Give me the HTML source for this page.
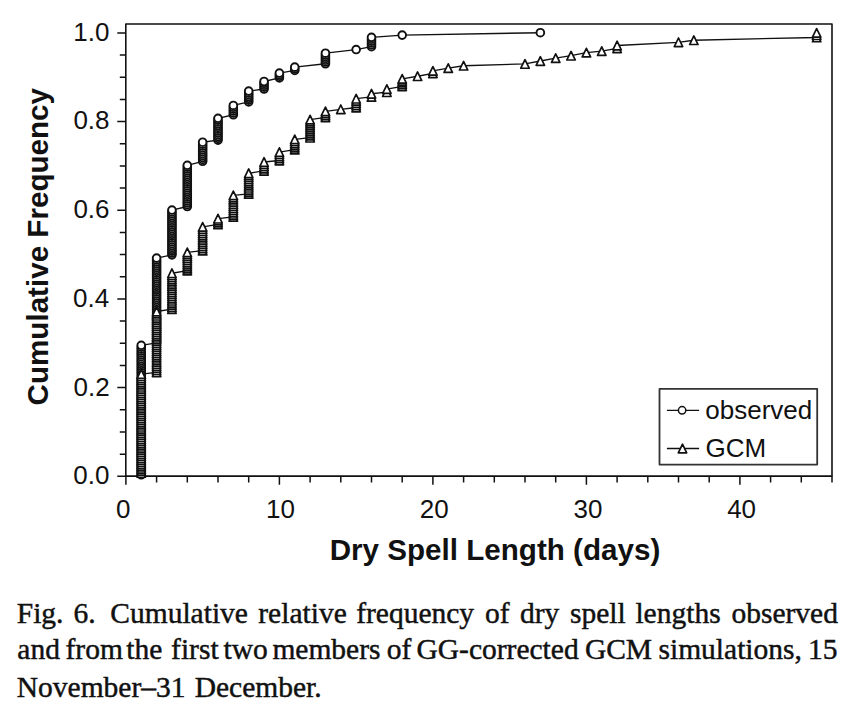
<!DOCTYPE html>
<html><head><meta charset="utf-8"><title>Fig. 6</title>
<style>
html,body{margin:0;padding:0;background:#fff;width:854px;height:708px;overflow:hidden;position:relative}
svg{display:block}
</style></head><body>
<svg width="854" height="708" viewBox="0 0 854 708" style="position:absolute;left:0;top:0">
<path d="M125.8 476.1V24H832V476.1Z" fill="none" stroke="#111" stroke-width="1.6" stroke-linejoin="round"/>
<path d="M117.3 476.3H125.8M119.8 454.13H125.8M119.8 431.96H125.8M119.8 409.79H125.8M117.3 387.62H125.8M119.8 365.45H125.8M119.8 343.28H125.8M119.8 321.11H125.8M117.3 298.94H125.8M119.8 276.77H125.8M119.8 254.6H125.8M119.8 232.43H125.8M117.3 210.26H125.8M119.8 188.09H125.8M119.8 165.92H125.8M119.8 143.75H125.8M117.3 121.58H125.8M119.8 99.41H125.8M119.8 77.24H125.8M119.8 55.07H125.8M117.3 32.9H125.8M125.9 476.1V484.8M156.6 476.1V482.6M187.3 476.1V482.6M218 476.1V482.6M248.7 476.1V482.6M279.4 476.1V484.8M310.1 476.1V482.6M340.8 476.1V482.6M371.5 476.1V482.6M402.2 476.1V482.6M432.9 476.1V484.8M463.6 476.1V482.6M494.3 476.1V482.6M525 476.1V482.6M555.7 476.1V482.6M586.4 476.1V484.8M617.1 476.1V482.6M647.8 476.1V482.6M678.5 476.1V482.6M709.2 476.1V482.6M739.9 476.1V484.8M770.6 476.1V482.6M801.3 476.1V482.6M832 476.1V482.6" fill="none" stroke="#111" stroke-width="1.5"/>
<g fill="#fff" stroke="#111" stroke-width="1.9">
<path d="M141.25 474.78L141.25 472.88L141.25 470.97L141.25 469.07L141.25 467.17L141.25 465.26L141.25 463.36L141.25 461.45L141.25 459.55L141.25 457.65L141.25 455.74L141.25 453.84L141.25 451.93L141.25 450.03L141.25 448.13L141.25 446.22L141.25 444.32L141.25 442.41L141.25 440.51L141.25 438.61L141.25 436.7L141.25 434.8L141.25 432.89L141.25 430.99L141.25 429.09L141.25 427.18L141.25 425.28L141.25 423.37L141.25 421.47L141.25 419.57L141.25 417.66L141.25 415.76L141.25 413.85L141.25 411.95L141.25 410.05L141.25 408.14L141.25 406.24L141.25 404.33L141.25 402.43L141.25 400.53L141.25 398.62L141.25 396.72L141.25 394.81L141.25 392.91L141.25 391.01L141.25 389.1L141.25 387.2L141.25 385.29L141.25 383.39L141.25 381.49L141.25 379.58L141.25 377.68L141.25 375.77L141.25 373.87L141.25 371.97L141.25 370.06L141.25 368.16L141.25 366.25L141.25 364.35L141.25 362.45L141.25 360.54L141.25 358.64L141.25 356.73L141.25 354.83L141.25 352.93L141.25 351.02L141.25 349.12L141.25 347.21L141.25 345.31L156.6 342.87L156.6 340.99L156.6 339.1L156.6 337.22L156.6 335.34L156.6 333.45L156.6 331.57L156.6 329.68L156.6 327.8L156.6 325.92L156.6 324.03L156.6 322.15L156.6 320.26L156.6 318.38L156.6 316.5L156.6 314.61L156.6 312.73L156.6 310.84L156.6 308.96L156.6 307.08L156.6 305.19L156.6 303.31L156.6 301.42L156.6 299.54L156.6 297.66L156.6 295.77L156.6 293.89L156.6 292L156.6 290.12L156.6 288.24L156.6 286.35L156.6 284.47L156.6 282.58L156.6 280.7L156.6 278.82L156.6 276.93L156.6 275.05L156.6 273.17L156.6 271.28L156.6 269.4L156.6 267.51L156.6 265.63L156.6 263.75L156.6 261.86L156.6 259.98L156.6 258.09L171.95 254.86L171.95 252.99L171.95 251.12L171.95 249.26L171.95 247.39L171.95 245.53L171.95 243.66L171.95 241.79L171.95 239.93L171.95 238.06L171.95 236.2L171.95 234.33L171.95 232.46L171.95 230.6L171.95 228.73L171.95 226.87L171.95 225L171.95 223.14L171.95 221.27L171.95 219.4L171.95 217.54L171.95 215.67L171.95 213.81L171.95 211.94L171.95 210.07L187.3 206.53L187.3 204.65L187.3 202.78L187.3 200.9L187.3 199.03L187.3 197.15L187.3 195.28L187.3 193.41L187.3 191.53L187.3 189.66L187.3 187.78L187.3 185.91L187.3 184.03L187.3 182.16L187.3 180.28L187.3 178.41L187.3 176.54L187.3 174.66L187.3 172.79L187.3 170.91L187.3 169.04L187.3 167.16L187.3 165.29L202.65 161.3L202.65 159.39L202.65 157.49L202.65 155.58L202.65 153.67L202.65 151.77L202.65 149.86L202.65 147.95L202.65 146.05L202.65 144.14L202.65 142.23L218 140.15L218 138.33L218 136.51L218 134.68L218 132.86L218 131.04L218 129.22L218 127.4L218 125.58L218 123.75L218 121.93L218 120.11L218 118.29L233.35 114.74L233.35 112.88L233.35 111.02L233.35 109.16L233.35 107.29L233.35 105.43L248.7 101.88L248.7 100.09L248.7 98.29L248.7 96.5L248.7 94.7L248.7 92.9L248.7 91.11L264.05 89.03L264.05 87.14L264.05 85.26L264.05 83.37L264.05 81.49L279.4 77.94L279.4 76.31L279.4 74.69L279.4 73.06L294.75 70.4L294.75 68.78L294.75 67.17L325.45 63.75L325.45 61.99L325.45 60.23L325.45 58.47L325.45 56.72L325.45 54.96L325.45 53.2L356.15 49.56L371.5 46.68L371.5 44.82L371.5 42.96L371.5 41.09L371.5 39.23L371.5 37.37L402.2 35.11L540.35 32.71" fill="none" stroke="#111" stroke-width="1.35" stroke-linejoin="round"/>
<circle cx="141.25" cy="474.78" r="3.85"/>
<circle cx="141.25" cy="472.88" r="3.85"/>
<circle cx="141.25" cy="470.97" r="3.85"/>
<circle cx="141.25" cy="469.07" r="3.85"/>
<circle cx="141.25" cy="467.17" r="3.85"/>
<circle cx="141.25" cy="465.26" r="3.85"/>
<circle cx="141.25" cy="463.36" r="3.85"/>
<circle cx="141.25" cy="461.45" r="3.85"/>
<circle cx="141.25" cy="459.55" r="3.85"/>
<circle cx="141.25" cy="457.65" r="3.85"/>
<circle cx="141.25" cy="455.74" r="3.85"/>
<circle cx="141.25" cy="453.84" r="3.85"/>
<circle cx="141.25" cy="451.93" r="3.85"/>
<circle cx="141.25" cy="450.03" r="3.85"/>
<circle cx="141.25" cy="448.13" r="3.85"/>
<circle cx="141.25" cy="446.22" r="3.85"/>
<circle cx="141.25" cy="444.32" r="3.85"/>
<circle cx="141.25" cy="442.41" r="3.85"/>
<circle cx="141.25" cy="440.51" r="3.85"/>
<circle cx="141.25" cy="438.61" r="3.85"/>
<circle cx="141.25" cy="436.7" r="3.85"/>
<circle cx="141.25" cy="434.8" r="3.85"/>
<circle cx="141.25" cy="432.89" r="3.85"/>
<circle cx="141.25" cy="430.99" r="3.85"/>
<circle cx="141.25" cy="429.09" r="3.85"/>
<circle cx="141.25" cy="427.18" r="3.85"/>
<circle cx="141.25" cy="425.28" r="3.85"/>
<circle cx="141.25" cy="423.37" r="3.85"/>
<circle cx="141.25" cy="421.47" r="3.85"/>
<circle cx="141.25" cy="419.57" r="3.85"/>
<circle cx="141.25" cy="417.66" r="3.85"/>
<circle cx="141.25" cy="415.76" r="3.85"/>
<circle cx="141.25" cy="413.85" r="3.85"/>
<circle cx="141.25" cy="411.95" r="3.85"/>
<circle cx="141.25" cy="410.05" r="3.85"/>
<circle cx="141.25" cy="408.14" r="3.85"/>
<circle cx="141.25" cy="406.24" r="3.85"/>
<circle cx="141.25" cy="404.33" r="3.85"/>
<circle cx="141.25" cy="402.43" r="3.85"/>
<circle cx="141.25" cy="400.53" r="3.85"/>
<circle cx="141.25" cy="398.62" r="3.85"/>
<circle cx="141.25" cy="396.72" r="3.85"/>
<circle cx="141.25" cy="394.81" r="3.85"/>
<circle cx="141.25" cy="392.91" r="3.85"/>
<circle cx="141.25" cy="391.01" r="3.85"/>
<circle cx="141.25" cy="389.1" r="3.85"/>
<circle cx="141.25" cy="387.2" r="3.85"/>
<circle cx="141.25" cy="385.29" r="3.85"/>
<circle cx="141.25" cy="383.39" r="3.85"/>
<circle cx="141.25" cy="381.49" r="3.85"/>
<circle cx="141.25" cy="379.58" r="3.85"/>
<circle cx="141.25" cy="377.68" r="3.85"/>
<circle cx="141.25" cy="375.77" r="3.85"/>
<circle cx="141.25" cy="373.87" r="3.85"/>
<circle cx="141.25" cy="371.97" r="3.85"/>
<circle cx="141.25" cy="370.06" r="3.85"/>
<circle cx="141.25" cy="368.16" r="3.85"/>
<circle cx="141.25" cy="366.25" r="3.85"/>
<circle cx="141.25" cy="364.35" r="3.85"/>
<circle cx="141.25" cy="362.45" r="3.85"/>
<circle cx="141.25" cy="360.54" r="3.85"/>
<circle cx="141.25" cy="358.64" r="3.85"/>
<circle cx="141.25" cy="356.73" r="3.85"/>
<circle cx="141.25" cy="354.83" r="3.85"/>
<circle cx="141.25" cy="352.93" r="3.85"/>
<circle cx="141.25" cy="351.02" r="3.85"/>
<circle cx="141.25" cy="349.12" r="3.85"/>
<circle cx="141.25" cy="347.21" r="3.85"/>
<circle cx="141.25" cy="345.31" r="3.85"/>
<circle cx="156.6" cy="342.87" r="3.85"/>
<circle cx="156.6" cy="340.99" r="3.85"/>
<circle cx="156.6" cy="339.1" r="3.85"/>
<circle cx="156.6" cy="337.22" r="3.85"/>
<circle cx="156.6" cy="335.34" r="3.85"/>
<circle cx="156.6" cy="333.45" r="3.85"/>
<circle cx="156.6" cy="331.57" r="3.85"/>
<circle cx="156.6" cy="329.68" r="3.85"/>
<circle cx="156.6" cy="327.8" r="3.85"/>
<circle cx="156.6" cy="325.92" r="3.85"/>
<circle cx="156.6" cy="324.03" r="3.85"/>
<circle cx="156.6" cy="322.15" r="3.85"/>
<circle cx="156.6" cy="320.26" r="3.85"/>
<circle cx="156.6" cy="318.38" r="3.85"/>
<circle cx="156.6" cy="316.5" r="3.85"/>
<circle cx="156.6" cy="314.61" r="3.85"/>
<circle cx="156.6" cy="312.73" r="3.85"/>
<circle cx="156.6" cy="310.84" r="3.85"/>
<circle cx="156.6" cy="308.96" r="3.85"/>
<circle cx="156.6" cy="307.08" r="3.85"/>
<circle cx="156.6" cy="305.19" r="3.85"/>
<circle cx="156.6" cy="303.31" r="3.85"/>
<circle cx="156.6" cy="301.42" r="3.85"/>
<circle cx="156.6" cy="299.54" r="3.85"/>
<circle cx="156.6" cy="297.66" r="3.85"/>
<circle cx="156.6" cy="295.77" r="3.85"/>
<circle cx="156.6" cy="293.89" r="3.85"/>
<circle cx="156.6" cy="292" r="3.85"/>
<circle cx="156.6" cy="290.12" r="3.85"/>
<circle cx="156.6" cy="288.24" r="3.85"/>
<circle cx="156.6" cy="286.35" r="3.85"/>
<circle cx="156.6" cy="284.47" r="3.85"/>
<circle cx="156.6" cy="282.58" r="3.85"/>
<circle cx="156.6" cy="280.7" r="3.85"/>
<circle cx="156.6" cy="278.82" r="3.85"/>
<circle cx="156.6" cy="276.93" r="3.85"/>
<circle cx="156.6" cy="275.05" r="3.85"/>
<circle cx="156.6" cy="273.17" r="3.85"/>
<circle cx="156.6" cy="271.28" r="3.85"/>
<circle cx="156.6" cy="269.4" r="3.85"/>
<circle cx="156.6" cy="267.51" r="3.85"/>
<circle cx="156.6" cy="265.63" r="3.85"/>
<circle cx="156.6" cy="263.75" r="3.85"/>
<circle cx="156.6" cy="261.86" r="3.85"/>
<circle cx="156.6" cy="259.98" r="3.85"/>
<circle cx="156.6" cy="258.09" r="3.85"/>
<circle cx="171.95" cy="254.86" r="3.85"/>
<circle cx="171.95" cy="252.99" r="3.85"/>
<circle cx="171.95" cy="251.12" r="3.85"/>
<circle cx="171.95" cy="249.26" r="3.85"/>
<circle cx="171.95" cy="247.39" r="3.85"/>
<circle cx="171.95" cy="245.53" r="3.85"/>
<circle cx="171.95" cy="243.66" r="3.85"/>
<circle cx="171.95" cy="241.79" r="3.85"/>
<circle cx="171.95" cy="239.93" r="3.85"/>
<circle cx="171.95" cy="238.06" r="3.85"/>
<circle cx="171.95" cy="236.2" r="3.85"/>
<circle cx="171.95" cy="234.33" r="3.85"/>
<circle cx="171.95" cy="232.46" r="3.85"/>
<circle cx="171.95" cy="230.6" r="3.85"/>
<circle cx="171.95" cy="228.73" r="3.85"/>
<circle cx="171.95" cy="226.87" r="3.85"/>
<circle cx="171.95" cy="225" r="3.85"/>
<circle cx="171.95" cy="223.14" r="3.85"/>
<circle cx="171.95" cy="221.27" r="3.85"/>
<circle cx="171.95" cy="219.4" r="3.85"/>
<circle cx="171.95" cy="217.54" r="3.85"/>
<circle cx="171.95" cy="215.67" r="3.85"/>
<circle cx="171.95" cy="213.81" r="3.85"/>
<circle cx="171.95" cy="211.94" r="3.85"/>
<circle cx="171.95" cy="210.07" r="3.85"/>
<circle cx="187.3" cy="206.53" r="3.85"/>
<circle cx="187.3" cy="204.65" r="3.85"/>
<circle cx="187.3" cy="202.78" r="3.85"/>
<circle cx="187.3" cy="200.9" r="3.85"/>
<circle cx="187.3" cy="199.03" r="3.85"/>
<circle cx="187.3" cy="197.15" r="3.85"/>
<circle cx="187.3" cy="195.28" r="3.85"/>
<circle cx="187.3" cy="193.41" r="3.85"/>
<circle cx="187.3" cy="191.53" r="3.85"/>
<circle cx="187.3" cy="189.66" r="3.85"/>
<circle cx="187.3" cy="187.78" r="3.85"/>
<circle cx="187.3" cy="185.91" r="3.85"/>
<circle cx="187.3" cy="184.03" r="3.85"/>
<circle cx="187.3" cy="182.16" r="3.85"/>
<circle cx="187.3" cy="180.28" r="3.85"/>
<circle cx="187.3" cy="178.41" r="3.85"/>
<circle cx="187.3" cy="176.54" r="3.85"/>
<circle cx="187.3" cy="174.66" r="3.85"/>
<circle cx="187.3" cy="172.79" r="3.85"/>
<circle cx="187.3" cy="170.91" r="3.85"/>
<circle cx="187.3" cy="169.04" r="3.85"/>
<circle cx="187.3" cy="167.16" r="3.85"/>
<circle cx="187.3" cy="165.29" r="3.85"/>
<circle cx="202.65" cy="161.3" r="3.85"/>
<circle cx="202.65" cy="159.39" r="3.85"/>
<circle cx="202.65" cy="157.49" r="3.85"/>
<circle cx="202.65" cy="155.58" r="3.85"/>
<circle cx="202.65" cy="153.67" r="3.85"/>
<circle cx="202.65" cy="151.77" r="3.85"/>
<circle cx="202.65" cy="149.86" r="3.85"/>
<circle cx="202.65" cy="147.95" r="3.85"/>
<circle cx="202.65" cy="146.05" r="3.85"/>
<circle cx="202.65" cy="144.14" r="3.85"/>
<circle cx="202.65" cy="142.23" r="3.85"/>
<circle cx="218" cy="140.15" r="3.85"/>
<circle cx="218" cy="138.33" r="3.85"/>
<circle cx="218" cy="136.51" r="3.85"/>
<circle cx="218" cy="134.68" r="3.85"/>
<circle cx="218" cy="132.86" r="3.85"/>
<circle cx="218" cy="131.04" r="3.85"/>
<circle cx="218" cy="129.22" r="3.85"/>
<circle cx="218" cy="127.4" r="3.85"/>
<circle cx="218" cy="125.58" r="3.85"/>
<circle cx="218" cy="123.75" r="3.85"/>
<circle cx="218" cy="121.93" r="3.85"/>
<circle cx="218" cy="120.11" r="3.85"/>
<circle cx="218" cy="118.29" r="3.85"/>
<circle cx="233.35" cy="114.74" r="3.85"/>
<circle cx="233.35" cy="112.88" r="3.85"/>
<circle cx="233.35" cy="111.02" r="3.85"/>
<circle cx="233.35" cy="109.16" r="3.85"/>
<circle cx="233.35" cy="107.29" r="3.85"/>
<circle cx="233.35" cy="105.43" r="3.85"/>
<circle cx="248.7" cy="101.88" r="3.85"/>
<circle cx="248.7" cy="100.09" r="3.85"/>
<circle cx="248.7" cy="98.29" r="3.85"/>
<circle cx="248.7" cy="96.5" r="3.85"/>
<circle cx="248.7" cy="94.7" r="3.85"/>
<circle cx="248.7" cy="92.9" r="3.85"/>
<circle cx="248.7" cy="91.11" r="3.85"/>
<circle cx="264.05" cy="89.03" r="3.85"/>
<circle cx="264.05" cy="87.14" r="3.85"/>
<circle cx="264.05" cy="85.26" r="3.85"/>
<circle cx="264.05" cy="83.37" r="3.85"/>
<circle cx="264.05" cy="81.49" r="3.85"/>
<circle cx="279.4" cy="77.94" r="3.85"/>
<circle cx="279.4" cy="76.31" r="3.85"/>
<circle cx="279.4" cy="74.69" r="3.85"/>
<circle cx="279.4" cy="73.06" r="3.85"/>
<circle cx="294.75" cy="70.4" r="3.85"/>
<circle cx="294.75" cy="68.78" r="3.85"/>
<circle cx="294.75" cy="67.17" r="3.85"/>
<circle cx="325.45" cy="63.75" r="3.85"/>
<circle cx="325.45" cy="61.99" r="3.85"/>
<circle cx="325.45" cy="60.23" r="3.85"/>
<circle cx="325.45" cy="58.47" r="3.85"/>
<circle cx="325.45" cy="56.72" r="3.85"/>
<circle cx="325.45" cy="54.96" r="3.85"/>
<circle cx="325.45" cy="53.2" r="3.85"/>
<circle cx="356.15" cy="49.56" r="3.85"/>
<circle cx="371.5" cy="46.68" r="3.85"/>
<circle cx="371.5" cy="44.82" r="3.85"/>
<circle cx="371.5" cy="42.96" r="3.85"/>
<circle cx="371.5" cy="41.09" r="3.85"/>
<circle cx="371.5" cy="39.23" r="3.85"/>
<circle cx="371.5" cy="37.37" r="3.85"/>
<circle cx="402.2" cy="35.11" r="3.85"/>
<circle cx="540.35" cy="32.71" r="3.85"/>
</g>
<g fill="#fff" stroke="#111" stroke-width="1.7" stroke-linejoin="round">
<path d="M141.25 472.97L141.25 470.87L141.25 468.77L141.25 466.66L141.25 464.56L141.25 462.46L141.25 460.35L141.25 458.25L141.25 456.14L141.25 454.04L141.25 451.94L141.25 449.83L141.25 447.73L141.25 445.63L141.25 443.52L141.25 441.42L141.25 439.31L141.25 437.21L141.25 435.11L141.25 433L141.25 430.9L141.25 428.79L141.25 426.69L141.25 424.59L141.25 422.48L141.25 420.38L141.25 418.28L141.25 416.17L141.25 414.07L141.25 411.96L141.25 409.86L141.25 407.76L141.25 405.65L141.25 403.55L141.25 401.45L141.25 399.34L141.25 397.24L141.25 395.13L141.25 393.03L141.25 390.93L141.25 388.82L141.25 386.72L141.25 384.62L141.25 382.51L141.25 380.41L141.25 378.3L141.25 376.2L141.25 374.1L156.6 372.32L156.6 370.22L156.6 368.13L156.6 366.03L156.6 363.93L156.6 361.83L156.6 359.74L156.6 357.64L156.6 355.54L156.6 353.44L156.6 351.35L156.6 349.25L156.6 347.15L156.6 345.05L156.6 342.95L156.6 340.86L156.6 338.76L156.6 336.66L156.6 334.56L156.6 332.47L156.6 330.37L156.6 328.27L156.6 326.17L156.6 324.07L156.6 321.98L156.6 319.88L156.6 317.78L156.6 315.68L156.6 313.59L156.6 311.49L171.95 309.14L171.95 307.03L171.95 304.91L171.95 302.8L171.95 300.69L171.95 298.57L171.95 296.46L171.95 294.35L171.95 292.24L171.95 290.12L171.95 288.01L171.95 285.9L171.95 283.79L171.95 281.67L171.95 279.56L171.95 277.45L171.95 275.34L171.95 273.22L187.3 270.56L187.3 268.54L187.3 266.52L187.3 264.5L187.3 262.48L187.3 260.46L187.3 258.44L187.3 256.42L187.3 254.4L187.3 252.38L202.65 250.61L202.65 248.45L202.65 246.3L202.65 244.14L202.65 241.98L202.65 239.83L202.65 237.67L202.65 235.51L202.65 233.36L202.65 231.2L202.65 229.04L202.65 226.89L218 224.45L218 222.53L218 220.61L218 218.68L233.35 216.91L233.35 214.75L233.35 212.59L233.35 210.43L233.35 208.27L233.35 206.11L233.35 203.95L233.35 201.8L233.35 199.64L233.35 197.48L233.35 195.32L248.7 193.85L248.7 191.8L248.7 189.74L248.7 187.68L248.7 185.62L248.7 183.57L248.7 181.51L248.7 179.45L248.7 177.4L248.7 175.34L248.7 173.28L264.05 170.8L264.05 168.6L264.05 166.41L264.05 164.21L264.05 162.02L279.4 160.51L279.4 158.4L279.4 156.3L279.4 154.19L279.4 152.09L294.75 149.6L294.75 147.56L294.75 145.52L294.75 143.48L294.75 141.44L294.75 139.4L310.1 137.68L310.1 135.67L310.1 133.66L310.1 131.65L310.1 129.64L310.1 127.63L310.1 125.61L310.1 123.6L310.1 121.59L310.1 119.58L325.45 117.32L325.45 115.34L325.45 113.36L325.45 111.38L340.8 109.3L356.15 107.52L356.15 105.32L356.15 103.11L356.15 100.91L356.15 98.7L371.5 96.88L371.5 93.78L386.85 92.18L386.85 89.08L402.2 86.29L402.2 84.43L402.2 82.58L402.2 80.73L402.2 78.88L417.55 76.22L432.9 73.29L432.9 70.9L448.25 68.11L463.6 65.71L525 63.94L540.35 61.01L555.7 58.17L571.05 55.69L586.4 52.59L601.75 51.08L617.1 48.29L617.1 45.49L678.5 42.3L693.85 40.22L816.65 37.47L816.65 35.18L816.65 32.9" fill="none" stroke="#111" stroke-width="1.35" stroke-linejoin="round"/>
<path d="M141.25 468.67L145.45 477.27H137.05Z"/>
<path d="M141.25 466.57L145.45 475.17H137.05Z"/>
<path d="M141.25 464.47L145.45 473.07H137.05Z"/>
<path d="M141.25 462.36L145.45 470.96H137.05Z"/>
<path d="M141.25 460.26L145.45 468.86H137.05Z"/>
<path d="M141.25 458.16L145.45 466.76H137.05Z"/>
<path d="M141.25 456.05L145.45 464.65H137.05Z"/>
<path d="M141.25 453.95L145.45 462.55H137.05Z"/>
<path d="M141.25 451.84L145.45 460.44H137.05Z"/>
<path d="M141.25 449.74L145.45 458.34H137.05Z"/>
<path d="M141.25 447.64L145.45 456.24H137.05Z"/>
<path d="M141.25 445.53L145.45 454.13H137.05Z"/>
<path d="M141.25 443.43L145.45 452.03H137.05Z"/>
<path d="M141.25 441.33L145.45 449.93H137.05Z"/>
<path d="M141.25 439.22L145.45 447.82H137.05Z"/>
<path d="M141.25 437.12L145.45 445.72H137.05Z"/>
<path d="M141.25 435.01L145.45 443.61H137.05Z"/>
<path d="M141.25 432.91L145.45 441.51H137.05Z"/>
<path d="M141.25 430.81L145.45 439.41H137.05Z"/>
<path d="M141.25 428.7L145.45 437.3H137.05Z"/>
<path d="M141.25 426.6L145.45 435.2H137.05Z"/>
<path d="M141.25 424.49L145.45 433.09H137.05Z"/>
<path d="M141.25 422.39L145.45 430.99H137.05Z"/>
<path d="M141.25 420.29L145.45 428.89H137.05Z"/>
<path d="M141.25 418.18L145.45 426.78H137.05Z"/>
<path d="M141.25 416.08L145.45 424.68H137.05Z"/>
<path d="M141.25 413.98L145.45 422.58H137.05Z"/>
<path d="M141.25 411.87L145.45 420.47H137.05Z"/>
<path d="M141.25 409.77L145.45 418.37H137.05Z"/>
<path d="M141.25 407.66L145.45 416.26H137.05Z"/>
<path d="M141.25 405.56L145.45 414.16H137.05Z"/>
<path d="M141.25 403.46L145.45 412.06H137.05Z"/>
<path d="M141.25 401.35L145.45 409.95H137.05Z"/>
<path d="M141.25 399.25L145.45 407.85H137.05Z"/>
<path d="M141.25 397.15L145.45 405.75H137.05Z"/>
<path d="M141.25 395.04L145.45 403.64H137.05Z"/>
<path d="M141.25 392.94L145.45 401.54H137.05Z"/>
<path d="M141.25 390.83L145.45 399.43H137.05Z"/>
<path d="M141.25 388.73L145.45 397.33H137.05Z"/>
<path d="M141.25 386.63L145.45 395.23H137.05Z"/>
<path d="M141.25 384.52L145.45 393.12H137.05Z"/>
<path d="M141.25 382.42L145.45 391.02H137.05Z"/>
<path d="M141.25 380.32L145.45 388.92H137.05Z"/>
<path d="M141.25 378.21L145.45 386.81H137.05Z"/>
<path d="M141.25 376.11L145.45 384.71H137.05Z"/>
<path d="M141.25 374L145.45 382.6H137.05Z"/>
<path d="M141.25 371.9L145.45 380.5H137.05Z"/>
<path d="M141.25 369.8L145.45 378.4H137.05Z"/>
<path d="M156.6 368.02L160.8 376.62H152.4Z"/>
<path d="M156.6 365.92L160.8 374.52H152.4Z"/>
<path d="M156.6 363.83L160.8 372.43H152.4Z"/>
<path d="M156.6 361.73L160.8 370.33H152.4Z"/>
<path d="M156.6 359.63L160.8 368.23H152.4Z"/>
<path d="M156.6 357.53L160.8 366.13H152.4Z"/>
<path d="M156.6 355.44L160.8 364.04H152.4Z"/>
<path d="M156.6 353.34L160.8 361.94H152.4Z"/>
<path d="M156.6 351.24L160.8 359.84H152.4Z"/>
<path d="M156.6 349.14L160.8 357.74H152.4Z"/>
<path d="M156.6 347.05L160.8 355.65H152.4Z"/>
<path d="M156.6 344.95L160.8 353.55H152.4Z"/>
<path d="M156.6 342.85L160.8 351.45H152.4Z"/>
<path d="M156.6 340.75L160.8 349.35H152.4Z"/>
<path d="M156.6 338.65L160.8 347.25H152.4Z"/>
<path d="M156.6 336.56L160.8 345.16H152.4Z"/>
<path d="M156.6 334.46L160.8 343.06H152.4Z"/>
<path d="M156.6 332.36L160.8 340.96H152.4Z"/>
<path d="M156.6 330.26L160.8 338.86H152.4Z"/>
<path d="M156.6 328.17L160.8 336.77H152.4Z"/>
<path d="M156.6 326.07L160.8 334.67H152.4Z"/>
<path d="M156.6 323.97L160.8 332.57H152.4Z"/>
<path d="M156.6 321.87L160.8 330.47H152.4Z"/>
<path d="M156.6 319.77L160.8 328.37H152.4Z"/>
<path d="M156.6 317.68L160.8 326.28H152.4Z"/>
<path d="M156.6 315.58L160.8 324.18H152.4Z"/>
<path d="M156.6 313.48L160.8 322.08H152.4Z"/>
<path d="M156.6 311.38L160.8 319.98H152.4Z"/>
<path d="M156.6 309.29L160.8 317.89H152.4Z"/>
<path d="M156.6 307.19L160.8 315.79H152.4Z"/>
<path d="M171.95 304.84L176.15 313.44H167.75Z"/>
<path d="M171.95 302.73L176.15 311.33H167.75Z"/>
<path d="M171.95 300.61L176.15 309.21H167.75Z"/>
<path d="M171.95 298.5L176.15 307.1H167.75Z"/>
<path d="M171.95 296.39L176.15 304.99H167.75Z"/>
<path d="M171.95 294.27L176.15 302.87H167.75Z"/>
<path d="M171.95 292.16L176.15 300.76H167.75Z"/>
<path d="M171.95 290.05L176.15 298.65H167.75Z"/>
<path d="M171.95 287.94L176.15 296.54H167.75Z"/>
<path d="M171.95 285.82L176.15 294.42H167.75Z"/>
<path d="M171.95 283.71L176.15 292.31H167.75Z"/>
<path d="M171.95 281.6L176.15 290.2H167.75Z"/>
<path d="M171.95 279.49L176.15 288.09H167.75Z"/>
<path d="M171.95 277.37L176.15 285.97H167.75Z"/>
<path d="M171.95 275.26L176.15 283.86H167.75Z"/>
<path d="M171.95 273.15L176.15 281.75H167.75Z"/>
<path d="M171.95 271.04L176.15 279.64H167.75Z"/>
<path d="M171.95 268.92L176.15 277.52H167.75Z"/>
<path d="M187.3 266.26L191.5 274.86H183.1Z"/>
<path d="M187.3 264.24L191.5 272.84H183.1Z"/>
<path d="M187.3 262.22L191.5 270.82H183.1Z"/>
<path d="M187.3 260.2L191.5 268.8H183.1Z"/>
<path d="M187.3 258.18L191.5 266.78H183.1Z"/>
<path d="M187.3 256.16L191.5 264.76H183.1Z"/>
<path d="M187.3 254.14L191.5 262.74H183.1Z"/>
<path d="M187.3 252.12L191.5 260.72H183.1Z"/>
<path d="M187.3 250.1L191.5 258.7H183.1Z"/>
<path d="M187.3 248.08L191.5 256.68H183.1Z"/>
<path d="M202.65 246.31L206.85 254.91H198.45Z"/>
<path d="M202.65 244.15L206.85 252.75H198.45Z"/>
<path d="M202.65 242L206.85 250.6H198.45Z"/>
<path d="M202.65 239.84L206.85 248.44H198.45Z"/>
<path d="M202.65 237.68L206.85 246.28H198.45Z"/>
<path d="M202.65 235.53L206.85 244.13H198.45Z"/>
<path d="M202.65 233.37L206.85 241.97H198.45Z"/>
<path d="M202.65 231.21L206.85 239.81H198.45Z"/>
<path d="M202.65 229.06L206.85 237.66H198.45Z"/>
<path d="M202.65 226.9L206.85 235.5H198.45Z"/>
<path d="M202.65 224.74L206.85 233.34H198.45Z"/>
<path d="M202.65 222.59L206.85 231.19H198.45Z"/>
<path d="M218 220.15L222.2 228.75H213.8Z"/>
<path d="M218 218.23L222.2 226.83H213.8Z"/>
<path d="M218 216.31L222.2 224.91H213.8Z"/>
<path d="M218 214.38L222.2 222.98H213.8Z"/>
<path d="M233.35 212.61L237.55 221.21H229.15Z"/>
<path d="M233.35 210.45L237.55 219.05H229.15Z"/>
<path d="M233.35 208.29L237.55 216.89H229.15Z"/>
<path d="M233.35 206.13L237.55 214.73H229.15Z"/>
<path d="M233.35 203.97L237.55 212.57H229.15Z"/>
<path d="M233.35 201.81L237.55 210.41H229.15Z"/>
<path d="M233.35 199.65L237.55 208.25H229.15Z"/>
<path d="M233.35 197.5L237.55 206.1H229.15Z"/>
<path d="M233.35 195.34L237.55 203.94H229.15Z"/>
<path d="M233.35 193.18L237.55 201.78H229.15Z"/>
<path d="M233.35 191.02L237.55 199.62H229.15Z"/>
<path d="M248.7 189.55L252.9 198.15H244.5Z"/>
<path d="M248.7 187.5L252.9 196.1H244.5Z"/>
<path d="M248.7 185.44L252.9 194.04H244.5Z"/>
<path d="M248.7 183.38L252.9 191.98H244.5Z"/>
<path d="M248.7 181.32L252.9 189.92H244.5Z"/>
<path d="M248.7 179.27L252.9 187.87H244.5Z"/>
<path d="M248.7 177.21L252.9 185.81H244.5Z"/>
<path d="M248.7 175.15L252.9 183.75H244.5Z"/>
<path d="M248.7 173.1L252.9 181.7H244.5Z"/>
<path d="M248.7 171.04L252.9 179.64H244.5Z"/>
<path d="M248.7 168.98L252.9 177.58H244.5Z"/>
<path d="M264.05 166.5L268.25 175.1H259.85Z"/>
<path d="M264.05 164.3L268.25 172.9H259.85Z"/>
<path d="M264.05 162.11L268.25 170.71H259.85Z"/>
<path d="M264.05 159.91L268.25 168.51H259.85Z"/>
<path d="M264.05 157.72L268.25 166.32H259.85Z"/>
<path d="M279.4 156.21L283.6 164.81H275.2Z"/>
<path d="M279.4 154.1L283.6 162.7H275.2Z"/>
<path d="M279.4 152L283.6 160.6H275.2Z"/>
<path d="M279.4 149.89L283.6 158.49H275.2Z"/>
<path d="M279.4 147.79L283.6 156.39H275.2Z"/>
<path d="M294.75 145.3L298.95 153.9H290.55Z"/>
<path d="M294.75 143.26L298.95 151.86H290.55Z"/>
<path d="M294.75 141.22L298.95 149.82H290.55Z"/>
<path d="M294.75 139.18L298.95 147.78H290.55Z"/>
<path d="M294.75 137.14L298.95 145.74H290.55Z"/>
<path d="M294.75 135.1L298.95 143.7H290.55Z"/>
<path d="M310.1 133.38L314.3 141.98H305.9Z"/>
<path d="M310.1 131.37L314.3 139.97H305.9Z"/>
<path d="M310.1 129.36L314.3 137.96H305.9Z"/>
<path d="M310.1 127.35L314.3 135.95H305.9Z"/>
<path d="M310.1 125.34L314.3 133.94H305.9Z"/>
<path d="M310.1 123.33L314.3 131.93H305.9Z"/>
<path d="M310.1 121.31L314.3 129.91H305.9Z"/>
<path d="M310.1 119.3L314.3 127.9H305.9Z"/>
<path d="M310.1 117.29L314.3 125.89H305.9Z"/>
<path d="M310.1 115.28L314.3 123.88H305.9Z"/>
<path d="M325.45 113.02L329.65 121.62H321.25Z"/>
<path d="M325.45 111.04L329.65 119.64H321.25Z"/>
<path d="M325.45 109.06L329.65 117.66H321.25Z"/>
<path d="M325.45 107.08L329.65 115.68H321.25Z"/>
<path d="M340.8 105L345 113.6H336.6Z"/>
<path d="M356.15 103.22L360.35 111.82H351.95Z"/>
<path d="M356.15 101.02L360.35 109.62H351.95Z"/>
<path d="M356.15 98.81L360.35 107.41H351.95Z"/>
<path d="M356.15 96.61L360.35 105.21H351.95Z"/>
<path d="M356.15 94.4L360.35 103H351.95Z"/>
<path d="M371.5 92.58L375.7 101.18H367.3Z"/>
<path d="M371.5 89.48L375.7 98.08H367.3Z"/>
<path d="M386.85 87.88L391.05 96.48H382.65Z"/>
<path d="M386.85 84.78L391.05 93.38H382.65Z"/>
<path d="M402.2 81.99L406.4 90.59H398Z"/>
<path d="M402.2 80.13L406.4 88.73H398Z"/>
<path d="M402.2 78.28L406.4 86.88H398Z"/>
<path d="M402.2 76.43L406.4 85.03H398Z"/>
<path d="M402.2 74.58L406.4 83.18H398Z"/>
<path d="M417.55 71.92L421.75 80.52H413.35Z"/>
<path d="M432.9 68.99L437.1 77.59H428.7Z"/>
<path d="M432.9 66.6L437.1 75.2H428.7Z"/>
<path d="M448.25 63.81L452.45 72.41H444.05Z"/>
<path d="M463.6 61.41L467.8 70.01H459.4Z"/>
<path d="M525 59.64L529.2 68.24H520.8Z"/>
<path d="M540.35 56.71L544.55 65.31H536.15Z"/>
<path d="M555.7 53.87L559.9 62.47H551.5Z"/>
<path d="M571.05 51.39L575.25 59.99H566.85Z"/>
<path d="M586.4 48.29L590.6 56.89H582.2Z"/>
<path d="M601.75 46.78L605.95 55.38H597.55Z"/>
<path d="M617.1 43.99L621.3 52.59H612.9Z"/>
<path d="M617.1 41.19L621.3 49.79H612.9Z"/>
<path d="M678.5 38L682.7 46.6H674.3Z"/>
<path d="M693.85 35.92L698.05 44.52H689.65Z"/>
<path d="M816.65 33.17L820.85 41.77H812.45Z"/>
<path d="M816.65 30.88L820.85 39.48H812.45Z"/>
<path d="M816.65 28.6L820.85 37.2H812.45Z"/>
</g>
<rect x="659.5" y="388.8" width="157.7" height="75.8" fill="#fff" stroke="#333" stroke-width="1.8" stroke-linejoin="round"/>
<path d="M666.9 410.3H699.1M666.9 448.5H699.1" stroke="#111" stroke-width="1.3"/>
<circle cx="682.1" cy="410.3" r="3.7" fill="#fff" stroke="#111" stroke-width="1.5"/>
<path d="M682.5 444.2L686.7 452.8H678.3Z" fill="#fff" stroke="#111" stroke-width="1.7" stroke-linejoin="round"/>
<g font-family="Liberation Sans, sans-serif" fill="#111">
<text x="705.31" y="418.6" font-size="26">observed</text>
<text x="705.49" y="457" font-size="26">GCM</text>
<text x="73.27" y="484.2" font-size="26">0.0</text>
<text x="73.56" y="395.52" font-size="26">0.2</text>
<text x="73.02" y="306.84" font-size="26">0.4</text>
<text x="73.40" y="218.16" font-size="26">0.6</text>
<text x="73.39" y="129.48" font-size="26">0.8</text>
<text x="73.27" y="40.8" font-size="26">1.0</text>
<text x="116.07" y="517.8" font-size="26">0</text>
<text x="265.96" y="517.8" font-size="26">10</text>
<text x="419.79" y="517.8" font-size="26">20</text>
<text x="573.45" y="517.8" font-size="26">30</text>
<text x="727.15" y="517.8" font-size="26">40</text>
<text x="329.72" y="559.7" font-size="29.6" font-weight="bold">Dry Spell Length (days)</text>
<text transform="translate(48.1 405.41) rotate(-90)" x="0" y="0" font-size="29.6" font-weight="bold">Cumulative Frequency</text>
</g>
<g font-family="Liberation Serif, serif" font-size="29.5" fill="#111" stroke="#111" stroke-width="0.45">
<text x="16.75" y="623.0">Fig.</text>
<text x="73.43" y="623.0">6.</text>
<text x="110.29" y="623.0">Cumulative</text>
<text x="258.31" y="623.0">relative</text>
<text x="356.19" y="623.0">frequency</text>
<text x="484.88" y="623.0">of</text>
<text x="520.03" y="623.0">dry</text>
<text x="569.99" y="623.0">spell</text>
<text x="635.41" y="623.0">lengths</text>
<text x="731.48" y="623.0">observed</text>
<text x="17.36" y="659.2">and</text>
<text x="65.49" y="659.2">from</text>
<text x="126.21" y="659.2">the</text>
<text x="171.09" y="659.2">first</text>
<text x="223.51" y="659.2">two</text>
<text x="272.38" y="659.2">members</text>
<text x="386.68" y="659.2">of</text>
<text x="416.49" y="659.2">GG-corrected</text>
<text x="584.89" y="659.2">GCM</text>
<text x="658.49" y="659.2">simulations,</text>
<text x="808.11" y="659.2">15</text>
<text x="16.75" y="696.5">November–31</text>
<text x="194.65" y="696.5">December.</text>
</g>
</svg>
</body></html>
